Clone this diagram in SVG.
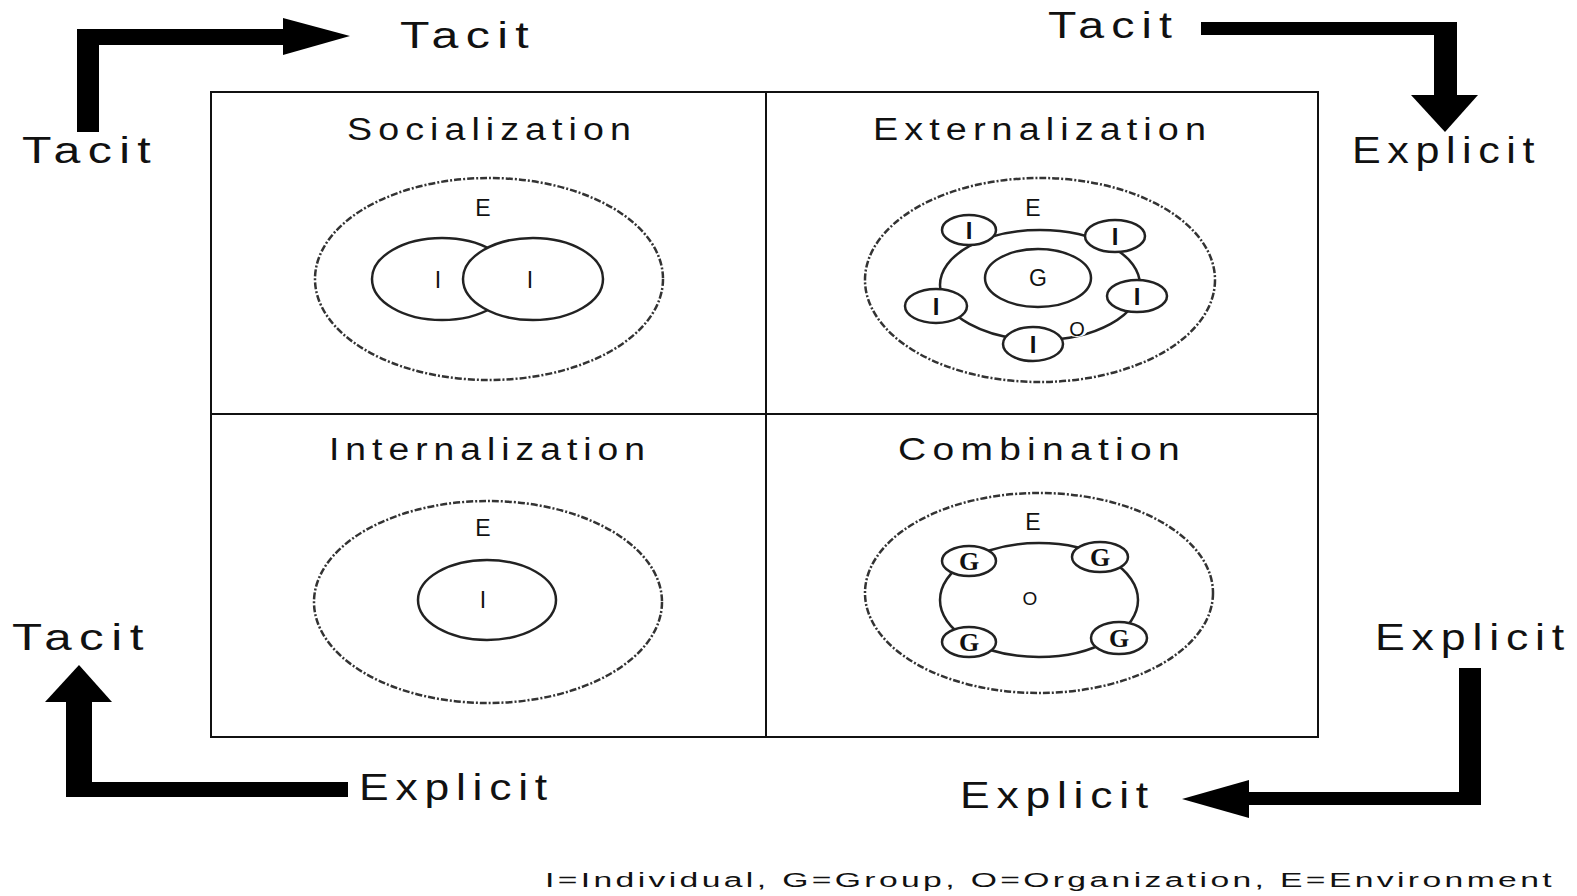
<svg xmlns="http://www.w3.org/2000/svg" width="1577" height="896" viewBox="0 0 1577 896">
<style>
.lbl{font-family:"Liberation Sans",Arial,sans-serif;font-size:36px;fill:#111;letter-spacing:5.5px}
.ttl{font-family:"Liberation Sans",Arial,sans-serif;font-size:31px;fill:#111;letter-spacing:5px}
.sm{font-family:"Liberation Sans",Arial,sans-serif;font-size:23px;fill:#111;text-anchor:middle}
.bi{font-family:"Liberation Sans",Arial,sans-serif;font-size:24px;font-weight:bold;fill:#111;text-anchor:middle}
.bg{font-family:"Liberation Serif","Times New Roman",serif;font-size:26px;font-weight:bold;fill:#111;text-anchor:middle}
.leg{font-family:"Liberation Sans",Arial,sans-serif;font-size:20px;fill:#111;letter-spacing:2px}
.env{fill:none;stroke:#333;stroke-width:2.5;stroke-dasharray:7 2 2 2}
.sol{fill:#fff;stroke:#222;stroke-width:2.5}
.ring{fill:none;stroke:#222;stroke-width:2.5}
.grid{fill:none;stroke:#111;stroke-width:2}
.arr{fill:#000}
</style>
<rect width="1577" height="896" fill="#fff"/>
<g id="grid">
<rect class="grid" x="211" y="92" width="1107" height="645"/>
<line class="grid" x1="766" y1="92" x2="766" y2="737"/>
<line class="grid" x1="211" y1="414" x2="1318" y2="414"/>
</g>
<g id="socialization">
<text class="ttl" x="347" y="140" textLength="290" lengthAdjust="spacingAndGlyphs">Socialization</text>
<ellipse class="env" cx="489" cy="279" rx="174" ry="101"/>
<text class="sm" x="483" y="216">E</text>
<ellipse class="sol" cx="442" cy="279" rx="70" ry="41"/>
<ellipse class="sol" cx="533" cy="279" rx="70" ry="41"/>
<text class="sm" x="438" y="288">I</text>
<text class="sm" x="530" y="288">I</text>
</g>
<g id="externalization">
<text class="ttl" x="873" y="140" textLength="339" lengthAdjust="spacingAndGlyphs">Externalization</text>
<ellipse class="env" cx="1040" cy="280" rx="175" ry="102"/>
<text class="sm" x="1033" y="216">E</text>
<ellipse class="ring" cx="1040" cy="285" rx="100" ry="55"/>
<ellipse class="sol" cx="1038" cy="278" rx="53" ry="29"/>
<text class="sm" x="1038" y="286">G</text>
<ellipse class="sol" cx="969" cy="230" rx="27" ry="15"/>
<text class="bi" x="969" y="239">I</text>
<ellipse class="sol" cx="1115" cy="236" rx="30" ry="16"/>
<text class="bi" x="1115" y="245">I</text>
<ellipse class="sol" cx="936" cy="306" rx="31" ry="17"/>
<text class="bi" x="936" y="315">I</text>
<ellipse class="sol" cx="1137" cy="296" rx="30" ry="16"/>
<text class="bi" x="1137" y="305">I</text>
<ellipse class="sol" cx="1033" cy="344" rx="30" ry="17"/>
<text class="bi" x="1033" y="353">I</text>
<ellipse fill="#fff" cx="1077" cy="329" rx="11" ry="8"/>
<text class="sm" x="1077" y="336" style="font-size:20px">O</text>
</g>
<g id="internalization">
<text class="ttl" x="329" y="460" textLength="322" lengthAdjust="spacingAndGlyphs">Internalization</text>
<ellipse class="env" cx="488" cy="602" rx="174" ry="101"/>
<text class="sm" x="483" y="536">E</text>
<ellipse class="sol" cx="487" cy="600" rx="69" ry="40"/>
<text class="sm" x="483" y="608">I</text>
</g>
<g id="combination">
<text class="ttl" x="898" y="460" textLength="288" lengthAdjust="spacingAndGlyphs">Combination</text>
<ellipse class="env" cx="1039" cy="593" rx="174" ry="100"/>
<text class="sm" x="1033" y="530">E</text>
<ellipse class="ring" cx="1039" cy="600" rx="99" ry="57"/>
<text class="sm" x="1030" y="605" style="font-size:19px">O</text>
<ellipse class="sol" cx="969" cy="561" rx="27" ry="15"/>
<text class="bg" x="969" y="570">G</text>
<ellipse class="sol" cx="1100" cy="557" rx="28" ry="15"/>
<text class="bg" x="1100" y="566">G</text>
<ellipse class="sol" cx="969" cy="642" rx="27" ry="15"/>
<text class="bg" x="969" y="651">G</text>
<ellipse class="sol" cx="1119" cy="638" rx="28" ry="16"/>
<text class="bg" x="1119" y="647">G</text>
</g>
<g id="labels">
<text class="lbl" x="400" y="48" textLength="136" lengthAdjust="spacingAndGlyphs">Tacit</text>
<text class="lbl" x="22" y="163" textLength="136" lengthAdjust="spacingAndGlyphs">Tacit</text>
<text class="lbl" x="1048" y="38" textLength="131" lengthAdjust="spacingAndGlyphs">Tacit</text>
<text class="lbl" x="1352" y="163" textLength="189" lengthAdjust="spacingAndGlyphs">Explicit</text>
<text class="lbl" x="12" y="650" textLength="139" lengthAdjust="spacingAndGlyphs">Tacit</text>
<text class="lbl" x="1375" y="650" textLength="196" lengthAdjust="spacingAndGlyphs">Explicit</text>
<text class="lbl" x="359" y="800" textLength="195" lengthAdjust="spacingAndGlyphs">Explicit</text>
<text class="lbl" x="960" y="808" textLength="195" lengthAdjust="spacingAndGlyphs">Explicit</text>
<text class="leg" x="545" y="887" textLength="1010" lengthAdjust="spacingAndGlyphs">I=Individual, G=Group, O=Organization, E=Environment</text>
</g>
<g id="connectors">
<path class="arr" d="M77,132 L77,29 L285,29 L285,45 L99,45 L99,132 Z"/>
<polygon class="arr" points="283,18 350,36 283,55"/>
<path class="arr" d="M1201,22 L1457,22 L1457,96 L1434,96 L1434,35 L1201,35 Z"/>
<polygon class="arr" points="1411,95 1478,95 1445,132"/>
<path class="arr" d="M92,702 L92,782 L348,782 L348,797 L66,797 L66,702 Z"/>
<polygon class="arr" points="45,702 112,702 79,665"/>
<path class="arr" d="M1459,668 L1481,668 L1481,805 L1249,805 L1249,792 L1459,792 Z"/>
<polygon class="arr" points="1249,780 1249,818 1182,799"/>
</g>
</svg>
